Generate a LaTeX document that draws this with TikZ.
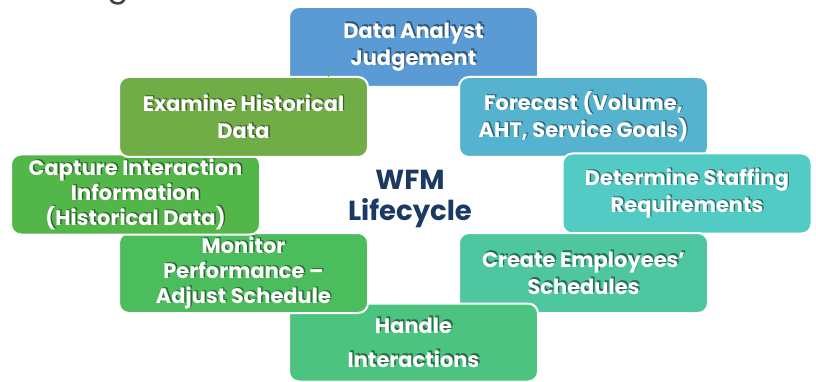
\documentclass[tikz,border=0pt]{standalone}
\usepackage{fontspec}
\setmainfont{Poppins}
\definecolor{cBlue}{HTML}{5B9BD5}
\definecolor{cForecast}{HTML}{56B3D0}
\definecolor{cDetermine}{HTML}{52CBC5}
\definecolor{cCreate}{HTML}{4EC6A0}
\definecolor{cHandle}{HTML}{4CC37E}
\definecolor{cMonitor}{HTML}{4BBD5C}
\definecolor{cCapture}{HTML}{52B649}
\definecolor{cExamine}{HTML}{70AD47}
\definecolor{cTitle}{HTML}{1B3A63}
\definecolor{cGray}{HTML}{404040}
\tikzset{
  wfmbox/.style={draw=white, line width=2pt, rounded corners=10pt,
    minimum width=249pt, minimum height=80pt, inner sep=0pt},
  boxtext/.style={align=center, inner sep=0pt, text=white},
  boxshadow/.style={align=center, inner sep=0pt, text=black, text opacity=0.45},
  centertitle/.style={align=center, inner sep=0pt, text=cTitle,
    font=\bfseries\fontsize{27.5}{31}\selectfont},
  stub/.style={draw=cExamine, line width=1pt}
}
\newcommand\wfmnode[7]{%
  \node[wfmbox, fill=#2, minimum height=#7pt] (#1) at (#3,#4) {};
  \node[boxshadow, font=\bfseries\fontsize{21}{#6}\selectfont] (#1-s)
    at ([shift={(1.4,-1.4)}]#1.center) {#5};
  \node[boxtext, font=\bfseries\fontsize{21}{#6}\selectfont] (#1-t)
    at (#1.center) {#5};
}
\begin{document}
\begin{tikzpicture}[x=1pt,y=-1pt]
\useasboundingbox (0,0) rectangle (816,382);
\begin{scope}
\clip (0,0) rectangle (816,382);
\node[anchor=base, text=cGray, font=\fontsize{32}{32}\selectfont, inner sep=0pt] (ttl) at (118,-3) {g};
\end{scope}
\wfmnode{blue}{cBlue}{413.5}{47}{Data Analyst\\Judgement}{27}{80}
\wfmnode{forecast}{cForecast}{583.5}{117}{Forecast (Volume,\\AHT, Service Goals)}{27}{80}
\wfmnode{determine}{cDetermine}{687}{193.5}{Determine Staffing\\Requirements}{27}{80}
\wfmnode{create}{cCreate}{583.5}{273}{Create Employees’\\Schedules}{27}{80}
\wfmnode{handle}{cHandle}{413.5}{342.5}{Handle\\Interactions}{34}{78}
\wfmnode{monitor}{cMonitor}{243.5}{273}{Monitor\\Performance –\\Adjust Schedule}{25}{80}
\wfmnode{capture}{cCapture}{135.5}{194.5}{Capture Interaction\\Information\\(Historical Data)}{25}{80}
\wfmnode{examine}{cExamine}{243.5}{117}{Examine Historical\\Data}{27}{80}
\draw[stub] ([xshift=84.5pt,yshift=-1pt]examine.north) -- ([xshift=-81.5pt,yshift=16pt]blue.south);
\node[centertitle] (wfm) at (410,199) {WFM\\Lifecycle};
\end{tikzpicture}
\end{document}
